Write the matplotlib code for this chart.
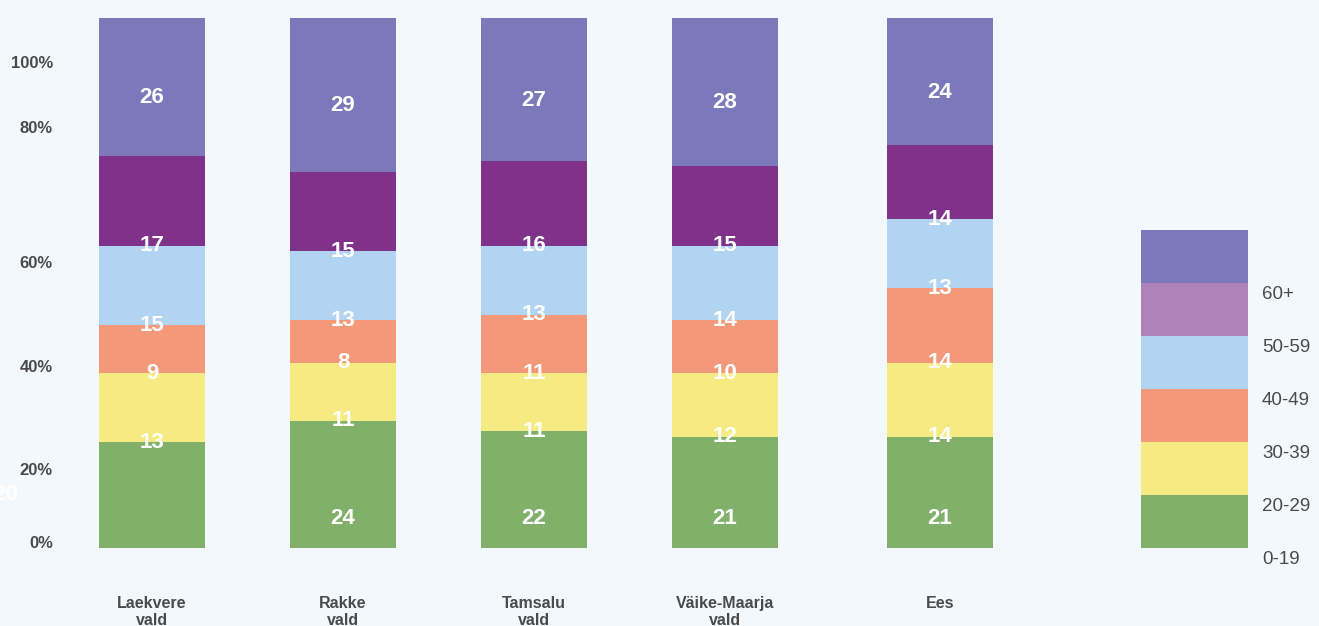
import matplotlib.pyplot as plt

plt.rcParams['font.family'] = ['Liberation Sans', 'DejaVu Sans']

# andmed
vallad = ['Laekvere\nvald', 'Rakke\nvald', 'Tamsalu\nvald', 'Väike-Maarja\nvald', 'Ees']
vanus = ['0-19', '20-29', '30-39', '40-49', '50-59', '60+']
v0_19 = [20, 24, 22, 21, 21]
v20_29 = [13, 11, 11, 12, 14]
v30_39 = [9, 8, 11, 10, 14]
v40_49 = [15, 13, 13, 14, 13]
v50_59 = [17, 15, 16, 15, 14]
v60 = [26, 29, 27, 28, 24]
legend_step = [10, 10, 10, 10, 10, 10]

ticks_pos = [91.5, 79.2, 53.6, 34.0, 14.7, 0.9]
ticks_lbl = ['100%', '80%', '60%', '40%', '20%', '0%']

varvid = ['#80B06A', '#F6EB82', '#F4987A', '#B0D4F1', '#80328A', '#7B79B9']
leg_varvid = ['#80B06A', '#F6EB82', '#F4987A', '#B0D4F1', '#AF82B9', '#7B79B9']
bg = '#F3F8FC'
tekst = '#4A4A4A'

x = [152, 343, 534, 725, 940]
x_leg = 1194.5
w = 106

fig = plt.figure(figsize=(13.19, 6.26), dpi=100, facecolor=bg)
ax = fig.add_axes([0, 0, 1, 1])
ax.set_facecolor(bg)
ax.set_xlim(0, 1319)
ax.set_ylim(-78 / 5.3, 548 / 5.3)
ax.axis('off')

seeriad = [v0_19, v20_29, v30_39, v40_49, v50_59, v60]
alus = [0] * len(x)
for k, s in enumerate(seeriad):
    ax.bar(x, s, width=w, bottom=alus, color=varvid[k], linewidth=0)
    for i in range(len(x)):
        if k == 0:
            if i == 0:
                ax.text(6, s[i] / 2, str(s[i]), color='white', fontsize=16,
                        fontweight='bold', ha='center', va='center')
            else:
                ax.text(x[i], 5.5, str(s[i]), color='white', fontsize=16,
                        fontweight='bold', ha='center', va='center')
        elif k == len(seeriad) - 1:
            ax.text(x[i], alus[i] + s[i] / 2, str(s[i]), color='white', fontsize=16,
                    fontweight='bold', ha='center', va='top')
        else:
            ax.text(x[i], alus[i], str(s[i]), color='white', fontsize=16,
                    fontweight='bold', ha='center', va='center')
    alus = [a + b for a, b in zip(alus, s)]

# legend kui eraldi tulp
b = 0
for k in range(len(vanus)):
    ax.bar(x_leg, legend_step[k], width=107, bottom=b, color=leg_varvid[k], linewidth=0)
    ax.text(1262, b - 2.2, vanus[k], color=tekst, fontsize=13.5, ha='left', va='center')
    b += legend_step[k]

# teljed
for p, t in zip(ticks_pos, ticks_lbl):
    ax.text(53, p, t, color=tekst, fontsize=12, fontweight='bold', ha='right', va='center')

for xi, n in zip(x, vallad):
    ax.text(xi, -48 / 5.3, n, color=tekst, fontsize=11.5, fontweight='bold',
            ha='center', va='top', linespacing=1.2)

fig.savefig('out.png', dpi=100, facecolor=bg)
